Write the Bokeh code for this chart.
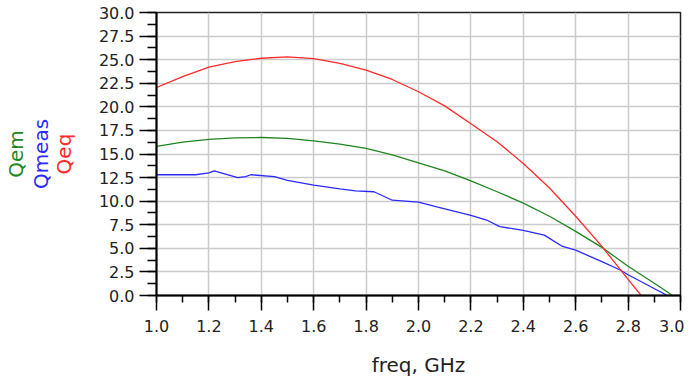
from bokeh.plotting import figure
from bokeh.models import (Range1d, SingleIntervalTicker, FixedTicker, LinearAxis,
                          PrintfTickFormatter)
from bokeh.embed import file_html
from bokeh.resources import INLINE

# ---- data ----
freq_eq = [1.0, 1.1, 1.2, 1.3, 1.4, 1.5, 1.6, 1.7, 1.8, 1.9, 2.0, 2.1, 2.2, 2.3,
           2.4, 2.5, 2.6, 2.7, 2.8, 2.85]
q_eq = [22.05, 23.2, 24.2, 24.8, 25.15, 25.3, 25.1, 24.6, 23.9, 22.9, 21.6, 20.1,
        18.2, 16.3, 14.0, 11.4, 8.4, 5.2, 1.7, 0.0]

freq_em = [1.0, 1.1, 1.2, 1.3, 1.4, 1.5, 1.6, 1.7, 1.8, 1.9, 2.0, 2.1, 2.2, 2.3,
           2.4, 2.5, 2.6, 2.7, 2.8, 2.9, 2.97]
q_em = [15.8, 16.25, 16.55, 16.7, 16.75, 16.65, 16.4, 16.05, 15.6, 14.9, 14.05,
        13.2, 12.15, 11.0, 9.8, 8.4, 6.8, 5.1, 3.1, 1.3, 0.0]

freq_meas = [1.0, 1.15, 1.2, 1.22, 1.26, 1.31, 1.34, 1.36, 1.45, 1.5, 1.6, 1.7,
             1.76, 1.83, 1.9, 2.0, 2.07, 2.2, 2.26, 2.31, 2.4, 2.48, 2.55, 2.6,
             2.7, 2.77, 2.8, 2.885, 2.95]
q_meas = [12.8, 12.8, 13.0, 13.2, 12.9, 12.5, 12.6, 12.8, 12.6, 12.2, 11.7, 11.3,
          11.1, 11.0, 10.1, 9.9, 9.4, 8.5, 8.0, 7.3, 6.9, 6.4, 5.2, 4.8, 3.6, 2.7,
          2.2, 0.95, 0.0]

x_title = "freq, GHz"
y_titles = ["Qeq", "Qmeas", "Qem"]

C_EM = "#1f861f"
C_MEAS = "#2a2aff"
C_EQ = "#ff2a2a"
title_colors = [C_EQ, C_MEAS, C_EM]
title_standoffs = [20, -4, -2]

FONT = "DejaVu Sans"

p = figure(frame_width=524, frame_height=283, output_backend="svg",
           toolbar_location=None,
           x_range=Range1d(1.0, 3.0), y_range=Range1d(0.0, 30.0),
           min_border_left=151, min_border_top=12, min_border_right=4,
           min_border_bottom=70, background_fill_color="white",
           border_fill_color="white")

p.outline_line_color = "#222222"
p.outline_line_width = 1.5

xa = p.xaxis[0]
xa.ticker = SingleIntervalTicker(interval=0.2, num_minor_ticks=2)
ya = p.yaxis[0]
ya.ticker = SingleIntervalTicker(interval=2.5, num_minor_ticks=2)
xa.formatter = PrintfTickFormatter(format="%.1f")
ya.formatter = PrintfTickFormatter(format="%.1f")

for ax in (xa, ya):
    ax.axis_line_color = "black"
    ax.axis_line_width = 2
    ax.major_tick_line_color = "black"
    ax.minor_tick_line_color = "black"
    ax.major_tick_line_width = 1.5
    ax.minor_tick_line_width = 1.5
    ax.major_tick_in = 0
    ax.minor_tick_in = 0
    ax.major_label_text_font = FONT
    ax.major_label_text_font_size = "16px"
    ax.major_label_text_color = "#222222"

xa.major_tick_out = 15
xa.minor_tick_out = 7
xa.major_label_standoff = 9
xa.axis_label = x_title
xa.axis_label_text_font = FONT
xa.axis_label_text_font_size = "20px"
xa.axis_label_text_font_style = "normal"
xa.axis_label_text_color = "#222222"
xa.axis_label_standoff = 18

ya.major_tick_out = 17
ya.minor_tick_out = 9
ya.major_label_standoff = 5

for t, c, s in zip(y_titles, title_colors, title_standoffs):
    ax = LinearAxis(ticker=FixedTicker(ticks=[]), axis_label=t,
                    axis_label_text_color=c, axis_label_text_font=FONT,
                    axis_label_text_font_size="20px",
                    axis_label_text_font_style="normal",
                    axis_line_color=None, major_tick_line_color=None,
                    minor_tick_line_color=None,
                    axis_label_standoff=s)
    p.add_layout(ax, "left")

for g in (p.xgrid[0], p.ygrid[0]):
    g.grid_line_color = "#cbcbcb"
    g.grid_line_width = 1.5

p.line(freq_em, q_em, line_color=C_EM, line_width=1.3)
p.line(freq_meas, q_meas, line_color=C_MEAS, line_width=1.3)
p.line(freq_eq, q_eq, line_color=C_EQ, line_width=1.3)

open("out.html", "w").write(file_html(p, INLINE))
